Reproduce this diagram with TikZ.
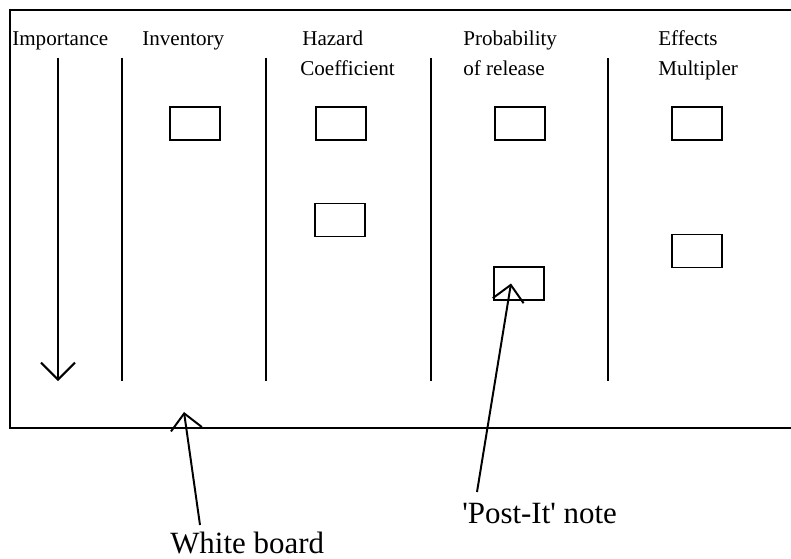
\documentclass[tikz,border=0pt]{standalone}
\usepackage{fontspec}
\setmainfont{Liberation Serif}
\usetikzlibrary{arrows.meta}
\tikzset{
    board/.style={line width=1.4pt},
    note/.style={draw,line width=1.4pt,minimum width=1.25cm,minimum height=0.825cm,inner sep=0pt},
    heading/.style={anchor=base west,inner sep=0pt,font=\fontsize{15}{18}\selectfont},
    caption/.style={anchor=base west,inner sep=0pt,font=\fontsize{22}{26}\selectfont},
    pointer/.style={line width=1.4pt,-{Straight Barb[length=4mm,width=7.8mm]}}
}
\begin{document}
\begin{tikzpicture}[x=0.025cm,y=-0.025cm]
        \useasboundingbox (0,0) rectangle (791,559);
        %% white board
        \draw[board] (791,10) -- (10,10) -- (10,428) -- (791,428);
        %% column headings
        \node[heading] (importance) at (12,45) {Importance};
        \node[heading] (inventory) at (142,45) {Inventory};
        \node[heading] (hazard) at (302,45) {Hazard};
        \node[heading] (coefficient) at (300,75) {Coefficient};
        \node[heading] (probability) at (463,45) {Probability};
        \node[heading] (release) at (463,75) {of release};
        \node[heading] (effects) at (658,45) {Effects};
        \node[heading] (multipler) at (658,75) {Multipler};
        %% column rules
        \foreach \x in {122,266,431,608}
            \draw[board] (\x,58) -- (\x,381);
        %% importance arrow
        \draw[board,-{Straight Barb[length=4.25mm,width=8.5mm]}] (58,58) -- (58,381);
        %% post-it notes
        \node[note] (inv1) at (195,123.5) {};
        \node[note] (haz1) at (341,123.5) {};
        \node[note] (haz2) at (340,220) {};
        \node[note] (prob1) at (520,123.5) {};
        \node[note] (prob2) at (519,283.5) {};
        \node[note] (eff1) at (697,123.5) {};
        \node[note] (eff2) at (697,251) {};
        %% labels
        \node[caption] (whiteboard) at (170,553) {White board};
        \node[caption] (postit) at (462,523) {\textquotesingle Post-It\textquotesingle{} note};
        \coordinate (wbfoot) at (200,525);
        \coordinate (wbtip) at (184,412);
        \coordinate (pifoot) at (477,492);
        \draw[pointer] (wbfoot) -- (wbtip);
        \draw[pointer] (pifoot) -- ([xshift=-0.2cm]prob2.center);
\end{tikzpicture}
\end{document}
